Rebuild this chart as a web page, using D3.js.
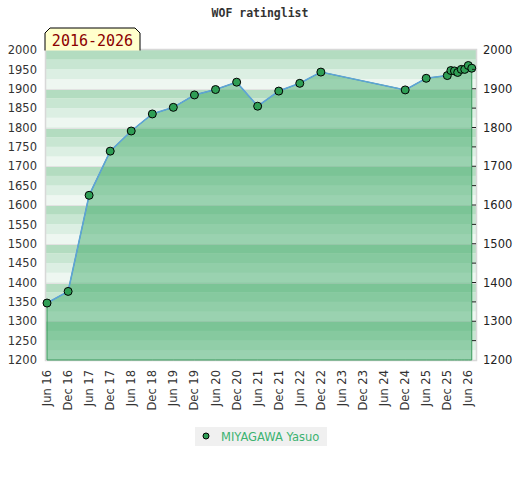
<!DOCTYPE html>
<html>
<head>
<meta charset="utf-8">
<script src="https://cdn.jsdelivr.net/npm/d3@7/dist/d3.min.js"></script>
<style>
  html, body { margin: 0; padding: 0; background: #fff; }
  svg { display: block; }
</style>
</head>
<body>
<svg id="chart" width="520" height="480"></svg>
<script>
// ---- data ----
const chartTitle = "WOF ratinglist";
const periodLabel = "2016-2026";
const playerName = "MIYAGAWA Yasuo";
const dates = [
  "2016-06-01","2016-12-01","2017-06-01","2017-12-01","2018-06-01","2018-12-01",
  "2019-06-01","2019-12-01","2020-06-01","2020-12-01","2021-06-01","2021-12-01",
  "2022-06-01","2022-12-01","2024-12-01","2025-06-01","2025-12-01",
  "2026-01-01","2026-02-01","2026-03-01","2026-04-01","2026-05-01","2026-06-01","2026-07-01"
];
const ratings = [
  1347, 1377, 1625, 1739, 1791, 1835,
  1852, 1884, 1898, 1917, 1855, 1894,
  1914, 1943, 1897, 1927, 1934,
  1947, 1946, 1942, 1950, 1950, 1960, 1953
];
const yLeftTicks = [1200,1250,1300,1350,1400,1450,1500,1550,1600,1650,1700,1750,1800,1850,1900,1950,2000];
const yRightTicks = [1200,1300,1400,1500,1600,1700,1800,1900,2000];
const xTickDates = [
  "2016-06-01","2016-12-01","2017-06-01","2017-12-01","2018-06-01","2018-12-01",
  "2019-06-01","2019-12-01","2020-06-01","2020-12-01","2021-06-01","2021-12-01",
  "2022-06-01","2022-12-01","2023-06-01","2023-12-01","2024-06-01","2024-12-01",
  "2025-06-01","2025-12-01","2026-06-01"
];

// ---- layout ----
const svg = d3.select("#chart");
const plotL = 46, plotR = 476, plotT = 50, plotB = 360;
const parse = d3.utcParse("%Y-%m-%d");
const points = dates.map((d, i) => ({ date: parse(d), value: ratings[i] }));

const x = d3.scaleUtc()
  .domain([parse("2016-06-01"), parse("2026-06-01")])
  .range([47, 468.3]);
const y = d3.scaleLinear().domain([1200, 2000]).range([plotB, plotT]);

// ---- background bands ----
const bandColors = ["#eef7f1", "#dcefe3", "#c8e6d2", "#b3dcc0"]; // bottom -> top within each 100
const bands = d3.range(1200, 2000, 25);
svg.append("g").selectAll("rect").data(bands).join("rect")
  .attr("x", plotL)
  .attr("width", plotR - plotL)
  .attr("y", d => y(d + 25))
  .attr("height", d => y(d) - y(d + 25))
  .attr("fill", d => bandColors[((d - 1200) % 100) / 25]);

// grid lines at each 100
svg.append("g").selectAll("line").data(yRightTicks.slice(1, -1)).join("line")
  .attr("x1", plotL).attr("x2", plotR)
  .attr("y1", d => Math.round(y(d)) + 0.5).attr("y2", d => Math.round(y(d)) + 0.5)
  .attr("stroke", "#e2e2e2").attr("stroke-width", 1);

// plot border
svg.append("rect")
  .attr("x", plotL - 0.5).attr("y", plotT - 0.5)
  .attr("width", plotR - plotL + 1).attr("height", plotB - plotT + 1)
  .attr("fill", "none").attr("stroke", "#d8d8d8").attr("stroke-width", 1.5);

// ---- area + line ----
const area = d3.area()
  .x(d => x(d.date))
  .y0(y(1200))
  .y1(d => y(d.value));
svg.append("path")
  .datum(points)
  .attr("d", area)
  .attr("fill", "rgba(62,170,104,0.48)")
  .attr("stroke", "#3a9a5c")
  .attr("stroke-width", 1);

const line = d3.line().x(d => x(d.date)).y(d => y(d.value));
svg.append("path")
  .datum(points)
  .attr("d", line)
  .attr("fill", "none")
  .attr("stroke", "#5ea3d8")
  .attr("stroke-width", 1.6);

svg.append("g").selectAll("circle").data(points).join("circle")
  .attr("cx", d => x(d.date))
  .attr("cy", d => y(d.value))
  .attr("r", 4)
  .attr("fill", "#2f9e55")
  .attr("stroke", "#000")
  .attr("stroke-width", 1);

// ---- axes ----
const axisFont = "DejaVu Sans, sans-serif";
const leftAxis = svg.append("g")
  .attr("transform", `translate(${plotL},0)`)
  .call(d3.axisLeft(y).tickValues(yLeftTicks).tickSize(0).tickPadding(9).tickFormat(d3.format("d")));
leftAxis.select(".domain").remove();
leftAxis.selectAll("text").attr("font-family", axisFont).attr("font-size", 11.5).attr("fill", "#333");

const rightAxis = svg.append("g")
  .attr("transform", `translate(${plotR},0)`)
  .call(d3.axisRight(y).tickValues(yRightTicks).tickSize(0).tickPadding(7).tickFormat(d3.format("d")));
rightAxis.select(".domain").remove();
rightAxis.selectAll("text").attr("font-family", axisFont).attr("font-size", 11.5).attr("fill", "#222");

// right tick marks (every 50)
svg.append("g").selectAll("line").data(yLeftTicks.slice(1, -1)).join("line")
  .attr("x1", plotR - 4).attr("x2", plotR)
  .attr("y1", d => y(d)).attr("y2", d => y(d))
  .attr("stroke", "#222").attr("stroke-width", 1);

// x labels
const fmt = d3.utcFormat("%b %y");
svg.append("g").selectAll("text").data(xTickDates.map(parse)).join("text")
  .attr("transform", d => `translate(${x(d) + 4},370) rotate(-90)`)
  .attr("text-anchor", "end")
  .attr("font-family", axisFont)
  .attr("font-size", 11.5)
  .attr("fill", "#333")
  .text(d => fmt(d));

// ---- title ----
svg.append("text")
  .attr("x", 260).attr("y", 17)
  .attr("text-anchor", "middle")
  .attr("font-family", "DejaVu Sans Mono, monospace")
  .attr("font-weight", "bold")
  .attr("font-size", 11.5)
  .attr("fill", "#333")
  .text(chartTitle);

// ---- period label box ----
svg.append("path")
  .attr("d", "M45,50.5 L45,33 L50,28 L135,28 L140,33 L140,50.5")
  .attr("fill", "#ffffcc")
  .attr("stroke", "#000")
  .attr("stroke-width", 1);
svg.append("text")
  .attr("x", 92.5).attr("y", 46)
  .attr("text-anchor", "middle")
  .attr("font-family", "DejaVu Sans Mono, monospace")
  .attr("font-size", 15)
  .attr("fill", "#8b0000")
  .text(periodLabel);

// ---- legend ----
const lg = svg.append("g");
lg.append("rect").attr("x", 195).attr("y", 427).attr("width", 132).attr("height", 19).attr("fill", "#f0f0f0");
lg.append("circle").attr("cx", 206).attr("cy", 436).attr("r", 3).attr("fill", "#2f9e55").attr("stroke", "#000").attr("stroke-width", 1);
lg.append("text").attr("x", 221).attr("y", 440.5)
  .attr("font-family", axisFont).attr("font-size", 11.5).attr("fill", "#3cb371")
  .text(playerName);
</script>
</body>
</html>
